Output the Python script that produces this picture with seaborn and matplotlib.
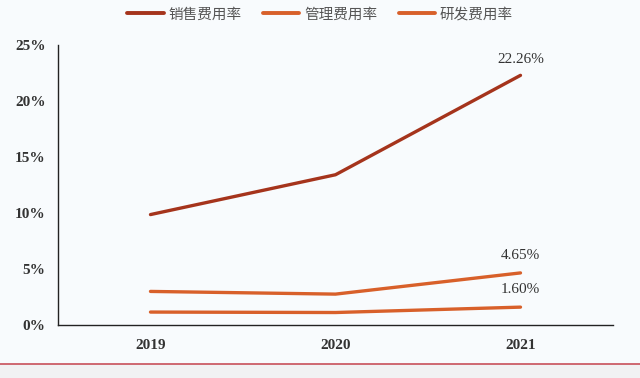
import pandas as pd
import matplotlib.pyplot as plt
import seaborn as sns
from matplotlib.ticker import FixedLocator, FuncFormatter
from matplotlib.patches import Rectangle
from matplotlib.lines import Line2D

# dados do gráfico
anos = ["2019", "2020", "2021"]
series = ["销售费用率", "管理费用率", "研发费用率"]
taxa_vendas = [9.85, 13.4, 22.26]
taxa_gestao = [3.0, 2.76, 4.65]
taxa_pd = [1.16, 1.12, 1.60]
rotulos_finais = ["22.26%", "4.65%", "1.60%"]
cores = ["#a5341c", "#d8602a", "#d8602a"]

valores = [taxa_vendas, taxa_gestao, taxa_pd]
dados = pd.DataFrame({
    "pos": [i for _ in series for i in range(len(anos))],
    "valor": [v for vals in valores for v in vals],
    "serie": [s for s in series for _ in anos],
})

sns.set_style("white")
plt.rcParams["font.family"] = ["Noto Sans CJK SC", "DejaVu Sans"]

fundo = "#f8fbfd"
fig = plt.figure(figsize=(6.4, 3.78), dpi=100, facecolor=fundo)
ax = fig.add_axes([0.0906, 0.140, 0.8672, 0.742])
ax.set_facecolor(fundo)

sns.lineplot(data=dados, x="pos", y="valor", hue="serie", hue_order=series,
             palette=cores, linewidth=2.4, legend=False, ax=ax,
             solid_capstyle="round")

# rótulos no último ponto
desloc = [7, 8, 8]
for vals, txt, dy in zip(valores, rotulos_finais, desloc):
    ax.annotate(txt, (len(anos) - 1, vals[-1]), xytext=(0, dy),
                textcoords="offset points", ha="center", va="bottom",
                fontsize=11, family="Liberation Serif", color="#333333")

ax.set_xlim(-0.5, len(anos) - 0.5)
ax.set_ylim(0, 25)
ax.set_yticks(range(0, 26, 5))
ax.yaxis.set_major_formatter(FuncFormatter(lambda v, p: f"{v:.0f}%"))
ax.xaxis.set_major_locator(FixedLocator([i - 0.5 for i in range(len(anos) + 1)]))
ax.xaxis.set_major_formatter(FuncFormatter(lambda v, p: ""))
ax.xaxis.set_minor_locator(FixedLocator(range(len(anos))))
ax.set_xticklabels(anos, minor=True)
ax.tick_params(axis="x", which="major", direction="out", length=4, width=0.9, color="#222222")
ax.tick_params(axis="x", which="minor", length=0, pad=10)
ax.tick_params(axis="y", direction="out", length=4, width=0.9, color="#222222", pad=5)
for lab in ax.get_xticklabels(minor=True) + ax.get_yticklabels():
    lab.set_family("Liberation Serif")
    lab.set_fontweight("bold")
    lab.set_fontsize(11)
    lab.set_color("#333333")
ax.set_xlabel("")
ax.set_ylabel("")

for lado in ["top", "right"]:
    ax.spines[lado].set_visible(False)
for lado in ["left", "bottom"]:
    ax.spines[lado].set_color("#222222")
    ax.spines[lado].set_linewidth(1.0)

# legenda no topo
alcas = [Line2D([0], [0], color=c, linewidth=2.8) for c in cores]
fig.legend(alcas, series, loc="upper center", bbox_to_anchor=(0.5, 1.015),
           ncol=3, frameon=False, fontsize=10.5, handlelength=2.5,
           handletextpad=0.3, columnspacing=1.5, labelcolor="#555555")

# faixa inferior e linha vermelha
fig.patches.append(Rectangle((0, 0), 1, 1 - 364 / 378, transform=fig.transFigure,
                             facecolor="#f1f2f3", edgecolor="none", zorder=0))
fig.add_artist(Line2D([0, 1], [1 - 364 / 378] * 2, transform=fig.transFigure,
                      color="#c8505a", linewidth=1.2))

fig.savefig("out.png", dpi=100, facecolor=fundo)
